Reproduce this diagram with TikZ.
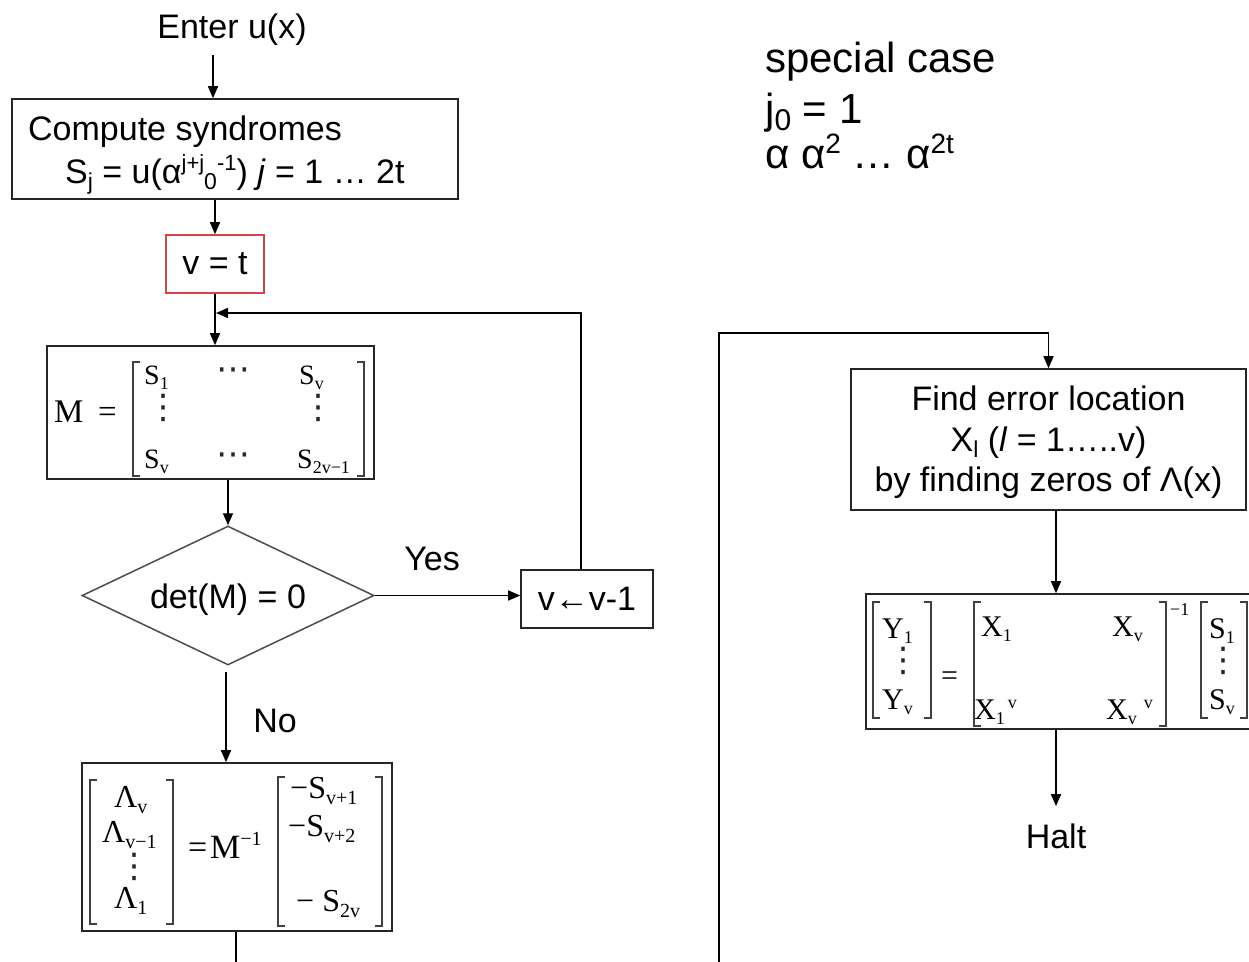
\documentclass[tikz,border=0pt]{standalone}
\usepackage{fontspec}
\setmainfont{Liberation Sans}
\newfontfamily\tms{Liberation Serif}
\newfontfamily\djv{DejaVu Sans}
\usetikzlibrary{arrows.meta,shapes.geometric,calc}
\newcommand\fs[1]{\fontsize{#1}{#1}\selectfont}
\newcommand\fsb{\fontsize{34}{40.5}\selectfont}
\newcommand\sbA[1]{\raisebox{-6pt}{\fs{23}#1}}
\newcommand\spA[1]{\raisebox{13pt}{\fs{22}#1}}
\newcommand\tsb[1]{\raisebox{-5pt}{\fs{18}#1}}
\newcommand\tsB[1]{\raisebox{-6pt}{\fs{20}#1}}
\newcommand\tsp[1]{\raisebox{11pt}{\fs{18}#1}}
\newcommand\tsP[1]{\raisebox{13pt}{\fs{20}#1}}
\definecolor{boxred}{HTML}{D04545}
\begin{document}
\begin{tikzpicture}[x=1pt,y=-1pt,
  box/.style={draw=black!85, line width=1.6pt, inner sep=0pt, rectangle},
  arr/.style={line width=1.5pt, -{Triangle[width=10pt,length=12pt]}},
  ln/.style={line width=1.5pt},
  brk/.style={line width=1.8pt, draw=black!75},
  tx/.style={inner sep=0pt, font=\fs{34}},
  bw/.style={inner sep=0pt, anchor=base west, font=\fs{34}},
  mt/.style={inner sep=0pt, anchor=base west, font=\tms\fs{28}},
  mL/.style={inner sep=0pt, anchor=base west, font=\tms\fs{32}},
  dt/.style={inner sep=0pt, font=\djv\fs{34}, text=black!85}]
\useasboundingbox (0,0) rectangle (1249,961);

% ---------- left column ----------
\node[tx, anchor=base] (enter) at (232,38) {Enter u(x)};
\node[box, minimum width=446pt, minimum height=100pt] (b1) at (235,149) {};
\node[bw] (t1) at (28,140) {Compute syndromes};
\node[bw] (t2) at (65,183) {S\sbA{j} = u(α\spA{j+j}\sbA{0}\spA{-1}) \textit{j} = 1 … 2t};

\node[box, draw=boxred, minimum width=98pt, minimum height=58pt, font=\fs{34}] (vt) at (215,264) {v = t};

\node[box, minimum width=327pt, minimum height=133pt] (M) at (210.5,412.5) {};
\node[mL, font=\tms\fs{33}] (mM) at (54,422) {M};
\node[mL, font=\tms\fs{33}] (meq) at (98,422) {=};
\node[mt] (m11) at (144,384) {S\tsb{1}};
\node[dt] (m12) at (233,374) {⋯};
\node[mt] (m13) at (299,384) {S\tsb{v}};
\node[dt] (m21) at (163,408) {⋮};
\node[dt] (m23) at (318,408) {⋮};
\node[mt] (m31) at (144,468) {S\tsb{v}};
\node[dt] (m32) at (233,459) {⋯};
\node[mt] (m33) at (297,468) {S\tsb{2v−1}};
\draw[brk] (140,362) -- (133,362) -- (133,476) -- (140,476);
\draw[brk] (357,362) -- (364,362) -- (364,476) -- (357,476);

\node[diamond, draw=black!70, line width=1.5pt, minimum width=292pt, minimum height=139pt, inner sep=0pt, aspect=2.1, font=\fs{34}] (dec) at (228,595.5) {\raisebox{-4pt}[\height][\depth]{det(M) = 0}};

\node[box, minimum width=132pt, minimum height=58pt, font=\fs{34}] (vv) at (587,599) {v←v-1};
\node[tx, anchor=base] (yes) at (432,570) {Yes};
\node[tx, anchor=base] (no) at (275,732) {No};

\node[box, minimum width=310pt, minimum height=168pt] (L) at (237,847) {};
\draw[brk] (97,780) -- (90,780) -- (90,924) -- (97,924);
\draw[brk] (166,780) -- (173,780) -- (173,924) -- (166,924);
\node[mL] (l1) at (114,807) {Λ\tsB{v}};
\node[mL] (l2) at (102,842) {Λ\tsB{v−1}};
\node[dt] (l3) at (134,867) {⋮};
\node[mL] (l4) at (114,908) {Λ\tsB{1}};
\node[mL, font=\tms\fs{34}] (leq) at (188,858) {=};
\node[mL, font=\tms\fs{34}] (lM) at (210,858) {M\tsP{−1}};
\draw[brk] (285,777) -- (278,777) -- (278,926) -- (285,926);
\draw[brk] (375,777) -- (382,777) -- (382,926) -- (375,926);
\node[mL] (r1) at (290,798) {−S\tsB{v+1}};
\node[mL] (r2) at (288,836) {−S\tsB{v+2}};
\node[mL] (r3) at (296,911) {− S\tsB{2v}};

% ---------- right column ----------
\node[bw, font=\fs{42}] (sc1) at (765,72) {special case};
\node[bw, font=\fs{42}] (sc2) at (765,123) {j\raisebox{-7pt}{\fs{30}0} = 1};
\node[bw, font=\fs{42}] (sc3) at (765,168) {α α\raisebox{15pt}{\fs{28}2} … α\raisebox{15pt}{\fs{28}2t}};

\node[box, minimum width=395pt, minimum height=141pt] (F) at (1048.5,439.5) {};
\node[inner sep=0pt, align=center, font=\fsb] (Ft) at (1048.5,442.5)
  {Find error location\\X\sbA{l} (\textit{l} = 1…..v)\\by finding zeros of Λ(x)};

\node[box, minimum width=396pt, minimum height=135pt] (Y) at (1064,661.5) {};
\draw[brk] (880,602) -- (873,602) -- (873,718) -- (880,718);
\draw[brk] (924,602) -- (931,602) -- (931,718) -- (924,718);
\node[mt, font=\tms\fs{30}] (y1) at (882,638) {Y\tsb{1}};
\node[dt] (y2) at (903,661) {⋮};
\node[mt, font=\tms\fs{30}] (y3) at (882,709) {Y\tsb{v}};
\node[mt, font=\tms\fs{30}] (yeq) at (941,685) {=};
\draw[brk] (981,602) -- (974,602) -- (974,726) -- (981,726);
\draw[brk] (1159,602) -- (1166,602) -- (1166,726) -- (1159,726);
\node[mt, font=\tms\fs{18}] (yinv) at (1170,615) {−1};
\node[mt, font=\tms\fs{30}] (x11) at (981,636) {X\tsb{1}};
\node[mt, font=\tms\fs{30}] (x12) at (1112,636) {X\tsb{v}};
\node[mt, font=\tms\fs{30}] (x21) at (974,719) {X\tsb{1}\hspace{3pt}\tsp{v}};
\node[mt, font=\tms\fs{30}] (x22) at (1106,719) {X\tsb{v}\hspace{7pt}\tsp{v}};
\draw[brk] (1208,602) -- (1201,602) -- (1201,718) -- (1208,718);
\draw[brk] (1240,602) -- (1247,602) -- (1247,718) -- (1240,718);
\node[mt, font=\tms\fs{30}] (s1) at (1209,638) {S\tsb{1}};
\node[dt] (s2) at (1223,661) {⋮};
\node[mt, font=\tms\fs{30}] (s3) at (1209,709) {S\tsb{v}};

\node[tx, anchor=base] (halt) at (1056,848) {Halt};

% ---------- connectors ----------
\coordinate (e1) at (213,55);
\draw[arr] (e1) -- (e1 |- b1.north);
\draw[arr] (b1.south -| vt.north) -- (vt.north);
\draw[arr] (vt.south) -- (vt.south |- M.north);
\coordinate (lp) at (581,313);
\draw[arr] (vv.north -| lp) -- (lp) -- ($(lp -| vt.south)+(1,0)$);
\draw[arr] (M.south -| dec.north) -- (dec.north);
\draw[arr] (dec.east) -- (vv.west |- dec.east);
\coordinate (no1) at (226,672);
\draw[arr] (no1) -- (no1 |- L.north);
\coordinate (out1) at (236,975);
\draw[ln] (L.south -| out1) -- (out1);

\coordinate (in1) at (719,975);
\coordinate (c2) at (719,333);
\draw[arr] (in1) -- (c2) -- (c2 -| F.north) -- (F.north);
\coordinate (fx) at (1056,0);
\draw[arr] (F.south -| fx) -- (Y.north -| fx);
\draw[arr, shorten >=17pt] (Y.south -| fx) -- (halt.north);
\end{tikzpicture}
\end{document}
